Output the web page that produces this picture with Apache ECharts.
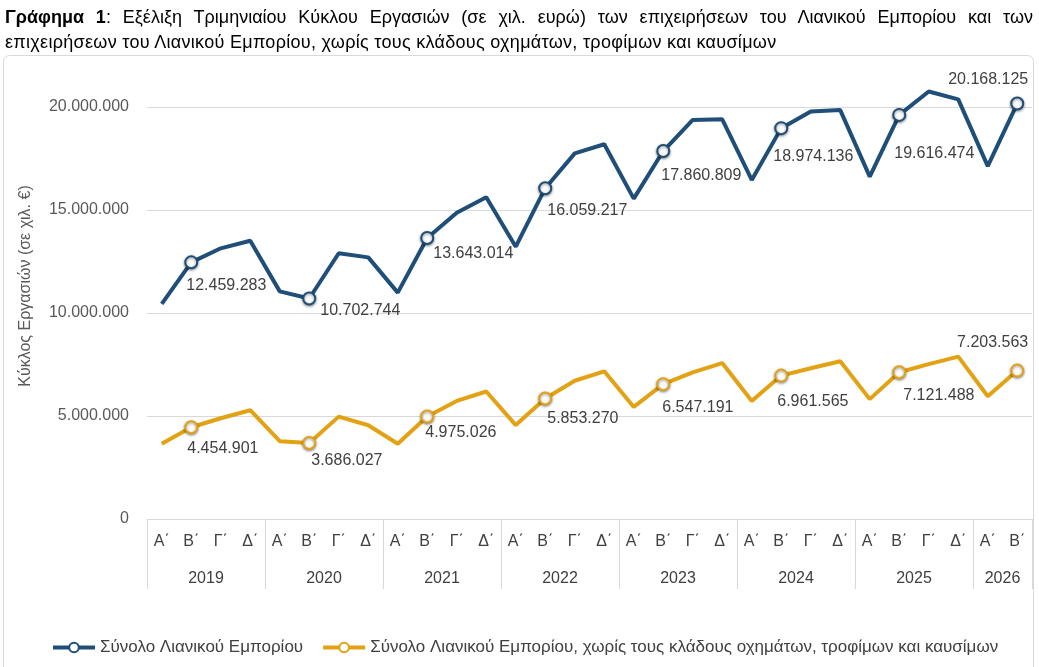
<!DOCTYPE html>
<html>
<head>
<meta charset="utf-8">
<script src="https://cdn.jsdelivr.net/npm/echarts@6/dist/echarts.min.js"></script>
<style>
  body { margin: 0; background: #fff; }
  #caption {
    position: absolute; left: 5px; top: 5px; width: 1028px; z-index: 2;
    font: 18px "Liberation Sans", Arial, sans-serif; color: #000; line-height: 25px;
  }
  #caption .l1 { text-align: justify; text-align-last: justify; white-space: nowrap; }
  #caption .l2 { letter-spacing: 0.3px; white-space: nowrap; }
  #chart { position: absolute; left: 0; top: 0; width: 1039px; height: 667px; }
</style>
</head>
<body>
<div id="caption">
  <div class="l1"><b>Γράφημα 1</b>: Εξέλιξη Τριμηνιαίου Κύκλου Εργασιών (σε χιλ. ευρώ) των επιχειρήσεων του Λιανικού Εμπορίου και των</div>
  <div class="l2">επιχειρήσεων του Λιανικού Εμπορίου, χωρίς τους κλάδους οχημάτων, τροφίμων και καυσίμων</div>
</div>
<div id="chart"></div>
<script>
// years and how many quarters each one has in the chart
var years = ['2019', '2020', '2021', '2022', '2023', '2024', '2025', '2026'];
var quartersPerYear = [4, 4, 4, 4, 4, 4, 4, 2];
var quarterNames = ['Α΄', 'Β΄', 'Γ΄', 'Δ΄'];

var seriesNames = [
  'Σύνολο Λιανικού Εμπορίου',
  'Σύνολο Λιανικού Εμπορίου, χωρίς τους κλάδους οχημάτων, τροφίμων και καυσίμων'
];

// Σύνολο Λιανικού Εμπορίου
var totalRetail = [
  10440000, 12459283, 13140000, 13510000,
  11050000, 10702744, 12900000, 12700000,
  10990000, 13643014, 14870000, 15620000,
  13220000, 16059217, 17750000, 18190000,
  15550000, 17860809, 19370000, 19400000,
  16460000, 18974136, 19780000, 19850000,
  16620000, 19616474, 20750000, 20370000,
  17130000, 20168125
];

// χωρίς οχήματα, τρόφιμα, καύσιμα
var retailExcl = [
  3650000, 4454901, 4890000, 5280000,
  3780000, 3686027, 4970000, 4550000,
  3650000, 4975026, 5730000, 6190000,
  4560000, 5853270, 6710000, 7170000,
  5440000, 6547191, 7120000, 7570000,
  5730000, 6961565, 7320000, 7660000,
  5820000, 7121488, 7520000, 7880000,
  5960000, 7203563
];

var yTicks = [0, 5000000, 10000000, 15000000, 20000000];

// label placement for the marked points (B' of each year), dx / dy from the point
var navyLabelPos = [[-5, 23], [11, 12], [6, 16], [2, 22], [-2, 25], [-8, 28], [-5, 39], [11, -24, 'right']];
var goldLabelPos = [[-4, 21], [2, 18], [-2, 16], [2, 20], [-1, 23], [-4, 26], [4, 23], [11, -28, 'right']];

var NAVY = '#1f4e79';
var GOLD = '#e2a214';
var TXT = '#404040';
var FONT = '"Liberation Sans", Arial, sans-serif';

function fmt(v) {
  return String(v).replace(/\B(?=(\d{3})+(?!\d))/g, '.');
}

// category lists
var quarterCats = [];
var yearCats = [];      // half-step axis, 61 slots
var yearBounds = {};
var start = 0;
years.forEach(function (y, i) {
  var n = quartersPerYear[i];
  for (var q = 0; q < n; q++) quarterCats.push(quarterNames[q]);
  yearBounds[start * 2] = true;
  start += n;
});
yearBounds[start * 2] = true;
for (var k = 0; k <= start * 2; k++) yearCats.push('');
start = 0;
years.forEach(function (y, i) {
  yearCats[start * 2 + quartersPerYear[i]] = y;
  start += quartersPerYear[i];
});

function buildData(values, labelPos) {
  var li = 0;
  return values.map(function (v, i) {
    var marked = (i % 4 === 1);
    if (!marked) return { value: v, symbol: 'none', label: { show: false } };
    var p = labelPos[li++];
    return {
      value: v,
      label: {
        show: true,
        position: 'inside',
        align: p[2] || 'left',
        verticalAlign: 'middle',
        offset: [p[0], p[1]]
      }
    };
  });
}

function lineSeries(name, values, color, labelPos) {
  return {
    name: name,
    type: 'line',
    clip: false,
    symbol: 'circle',
    symbolSize: 12,
    data: buildData(values, labelPos),
    lineStyle: { color: color, width: 4 },
    itemStyle: {
      color: '#fff', borderColor: color, borderWidth: 2,
      shadowBlur: 3, shadowColor: 'rgba(0,0,0,0.45)', shadowOffsetY: 1
    },
    label: {
      color: TXT, fontSize: 16, fontFamily: FONT,
      formatter: function (p) { return fmt(p.value); }
    },
    emphasis: { disabled: true },
    z: 3
  };
}

var chart = echarts.init(document.getElementById('chart'), null, { renderer: 'canvas' });

var option = {
  animation: false,
  textStyle: { fontFamily: FONT },
  grid: { left: 147, right: 7, top: 107, bottom: 148, containLabel: false },
  legend: {
    left: 46, top: 634,
    itemWidth: 42, itemHeight: 12, itemGap: 18,
    lineStyle: { width: 4 },
    textStyle: { fontSize: 17, color: TXT, fontFamily: FONT },
    data: seriesNames
  },
  xAxis: [
    {
      type: 'category',
      position: 'bottom',
      data: quarterCats,
      axisLine: { lineStyle: { color: '#d9d9d9' } },
      axisTick: { show: false },
      axisLabel: { color: TXT, fontSize: 16, margin: 15, interval: 0 }
    },
    {
      type: 'category',
      position: 'bottom',
      boundaryGap: false,
      data: yearCats,
      axisLine: { show: false },
      axisTick: {
        show: true, length: 70,
        lineStyle: { color: '#d9d9d9' },
        interval: function (idx) { return !!yearBounds[idx]; }
      },
      axisLabel: { color: TXT, fontSize: 16, margin: 52, interval: 0 },
      splitLine: { show: false }
    }
  ],
  yAxis: {
    type: 'value',
    min: yTicks[0],
    max: yTicks[yTicks.length - 1],
    interval: yTicks[1] - yTicks[0],
    axisLine: { show: false },
    axisTick: { show: false },
    splitLine: { lineStyle: { color: '#d9d9d9' } },
    axisLabel: { color: '#595959', fontSize: 16, margin: 18, formatter: fmt }
  },
  graphic: [
    {
      type: 'rect', silent: true, z: -10,
      shape: { x: 3.5, y: 55.5, width: 1030, height: 660, r: 6 },
      style: { fill: 'none', stroke: '#d9d9d9', lineWidth: 1 }
    },
    {
      type: 'text', silent: true,
      x: 26, y: 286, rotation: Math.PI / 2,
      style: {
        text: 'Κύκλος Εργασιών (σε χιλ. €)',
        fill: '#595959', font: '16px ' + FONT,
        align: 'center', verticalAlign: 'middle'
      }
    }
  ],
  series: [
    lineSeries(seriesNames[0], totalRetail, NAVY, navyLabelPos),
    lineSeries(seriesNames[1], retailExcl, GOLD, goldLabelPos)
  ]
};

chart.setOption(option);
</script>
</body>
</html>
